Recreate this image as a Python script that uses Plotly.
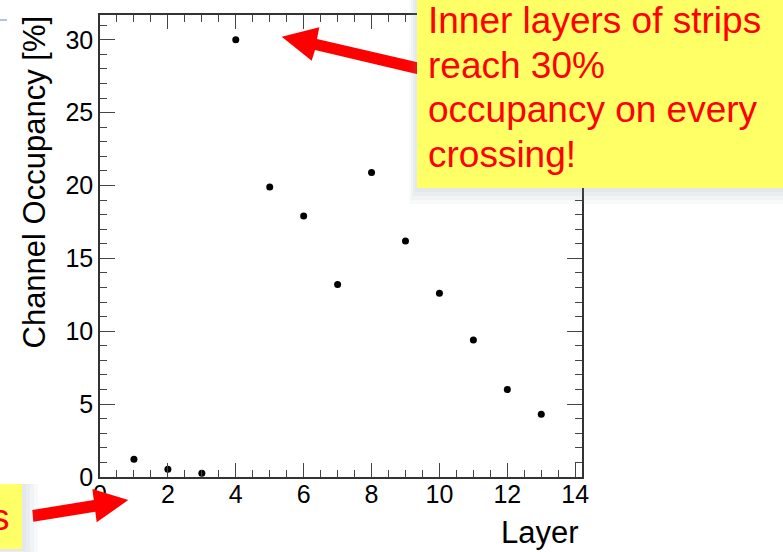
import plotly.graph_objects as go

# ---- data ----
layers = [1, 2, 3, 4, 5, 6, 7, 8, 9, 10, 11, 12, 13]
occupancy = [1.22, 0.53, 0.26, 30.0, 19.9, 17.9, 13.2, 20.9, 16.2, 12.6, 9.4, 6.0, 4.3]
x_ticks = [0, 2, 4, 6, 8, 10, 12, 14]
y_ticks = [0, 5, 10, 15, 20, 25, 30]
note_lines = ["Inner layers of strips", "reach 30%", "occupancy on every", "crossing!"]

# ---- layout geometry (pixels) ----
W, H = 783, 552
L, R, T, B = 100, 582, 15, 477


def px(x):
    return (x - L) / (R - L)


def py(y):
    return (B - y) / (B - T)


def path(points):
    return "M " + " L ".join(f"{px(x):.5f},{py(y):.5f}" for x, y in points) + " Z"


fig = go.Figure()
fig.add_trace(go.Scatter(
    x=layers, y=occupancy, mode="markers",
    marker=dict(color="black", size=7),
    showlegend=False, cliponaxis=False,
))

axis_font = dict(family="Liberation Sans, Arial, sans-serif", size=25, color="black")
fig.update_xaxes(
    range=[0, 14.2], tickvals=x_ticks, ticktext=[str(v) for v in x_ticks],
    ticks="inside", ticklen=14, tickwidth=1, tickcolor="#444",
    minor=dict(dtick=0.5, tick0=0, ticks="inside", ticklen=7, tickcolor="#444", tickwidth=1),
    showline=True, linecolor="#333", linewidth=1.5, mirror="ticks",
    showgrid=False, zeroline=False, tickfont=axis_font, ticklabelstandoff=-6,
)
fig.update_yaxes(
    range=[0, 31.7], tickvals=y_ticks, ticktext=[str(v) for v in y_ticks],
    ticks="inside", ticklen=15, tickwidth=1, tickcolor="#444",
    minor=dict(dtick=1, tick0=0, ticks="inside", ticklen=7, tickcolor="#444", tickwidth=1),
    showline=True, linecolor="#333", linewidth=1.5, mirror="ticks",
    showgrid=False, zeroline=False, tickfont=axis_font,
)

shapes = []
# arrow 1 (pointing at the 30% point)
shapes.append(dict(type="path", xref="paper", yref="paper", line=dict(width=0), fillcolor="#ff0000",
                   path=path([(425, 64), (317, 39), (319.3, 27.3), (281.7, 36.7), (311.7, 60.7),
                              (315, 50), (423, 75.5)])))
# arrow 2 (bottom left)
shapes.append(dict(type="path", xref="paper", yref="paper", line=dict(width=0), fillcolor="#ff0000",
                   path=path([(32.3, 510), (93.8, 500), (92.3, 489), (128.3, 500), (96.7, 522.3),
                              (95.3, 511.7), (33.3, 521.7)])))
# soft shadows
for i, a in enumerate([0.05, 0.05, 0.05, 0.05]):
    d = 4 + i * 4
    shapes.append(dict(type="rect", xref="paper", yref="paper", line=dict(width=0),
                       fillcolor=f"rgba(120,140,165,{a})",
                       x0=px(417 - d * 0.5), x1=px(800), y0=py(188 + d), y1=py(0)))
    shapes.append(dict(type="rect", xref="paper", yref="paper", line=dict(width=0),
                       fillcolor=f"rgba(120,140,165,{a})",
                       x0=px(-10), x1=px(22 + d), y0=py(549 + d * 0.5), y1=py(484)))
# yellow boxes
shapes.append(dict(type="rect", xref="paper", yref="paper", line=dict(width=0), fillcolor="#ffff66",
                   x0=px(417), x1=px(800), y0=py(188), y1=py(-5)))
shapes.append(dict(type="rect", xref="paper", yref="paper", line=dict(width=0), fillcolor="#ffff66",
                   x0=px(-10), x1=px(22), y0=py(549), y1=py(484)))
# small grey dash at top-left
shapes.append(dict(type="line", xref="paper", yref="paper", line=dict(width=1.5, color="#9fb0c4"),
                   x0=px(0), x1=px(7), y0=py(20), y1=py(20)))

annotations = []
note_font = dict(family="Liberation Sans, Arial, sans-serif", size=37, color="#ff0000")
for i, line in enumerate(note_lines):
    annotations.append(dict(text=line, xref="paper", yref="paper", x=px(427), y=py(20 + 45 * i),
                            xanchor="left", yanchor="middle", showarrow=False, font=note_font,
                            borderpad=0))
annotations.append(dict(text="s", xref="paper", yref="paper", x=px(11), y=py(517),
                        xanchor="right", yanchor="middle", showarrow=False, font=note_font, borderpad=0))
title_font = dict(family="Liberation Sans, Arial, sans-serif", size=31, color="black")
annotations.append(dict(text="Channel Occupancy [%]", xref="paper", yref="paper", x=px(34), y=py(14),
                        xanchor="center", yanchor="top", textangle=-90, showarrow=False, font=title_font))
annotations.append(dict(text="Layer", xref="paper", yref="paper", x=px(581), y=py(532),
                        xanchor="right", yanchor="middle", showarrow=False, font=title_font))

fig.update_layout(
    width=W, height=H, autosize=False,
    margin=dict(l=L, r=W - R, t=T, b=H - B),
    paper_bgcolor="white", plot_bgcolor="white",
    shapes=shapes, annotations=annotations,
)

fig.write_html("out.html", config={"displayModeBar": False},
               post_script="document.body.style.margin='0';document.body.style.overflow='hidden';")
